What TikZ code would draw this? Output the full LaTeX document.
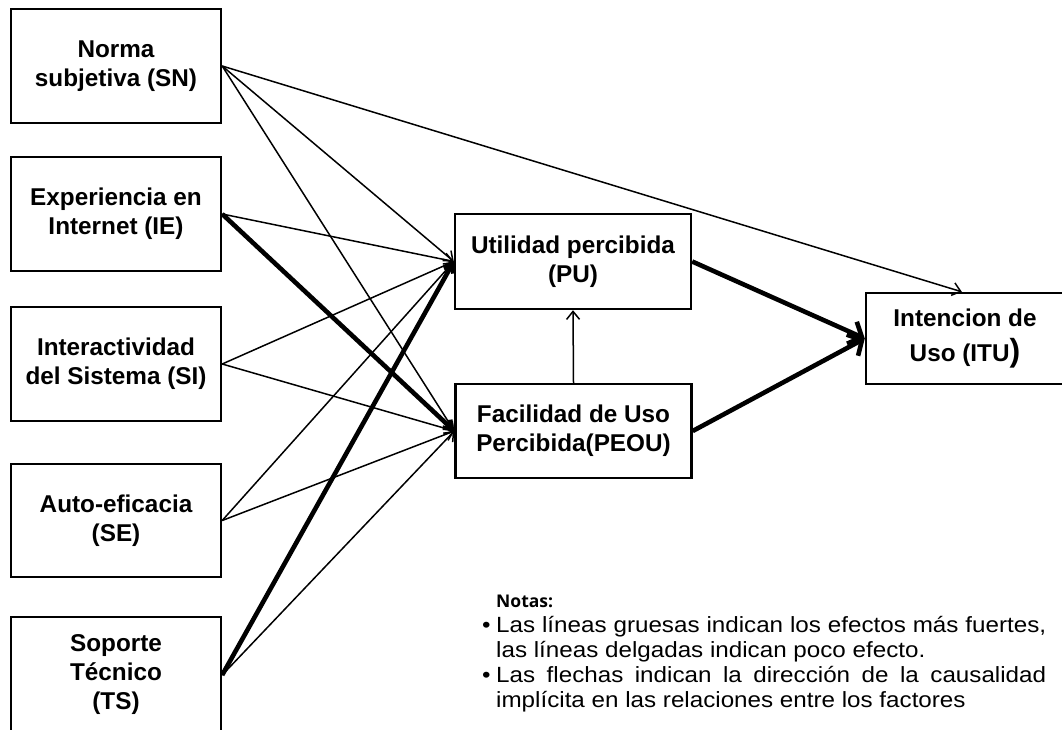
\documentclass[tikz,border=0pt]{standalone}
\usepackage{fontspec}
\setmainfont{Liberation Sans}
\newfontfamily\notasfont{Open Sans}
\newfontfamily\notefont{Liberation Sans}[FakeStretch=1.1]
\usetikzlibrary{arrows.meta}

\tikzset{
  factor/.style={draw, line width=2.4pt, fill=white, align=center, inner sep=0pt,
    font=\bfseries\fontsize{24.3}{29}\selectfont},
  leftbox/.style={factor, minimum width=210pt, minimum height=114pt},
  midbox/.style={factor, minimum width=236pt, minimum height=94pt},
  weak/.style={line width=1.5pt, -{Straight Barb[length=8pt,width=13pt]}},
  strong/.style={line width=4.6pt, -{Straight Barb[length=7pt,width=11pt]}},
  strongout/.style={line width=4.6pt, -{Straight Barb[length=11pt,width=24pt]}},
  notetext/.style={inner sep=0pt, anchor=base west, font=\notefont\fontsize{22}{25}\selectfont},
}

\begin{document}
\begin{tikzpicture}[x=1pt, y=-1pt]
  \clip (0,0) rectangle (1062,729);
  \fill[white] (0,0) rectangle (1062,729);

  % antecedent factors
  \node[leftbox] (sn) at (116,66)    {Norma\\subjetiva (SN)};
  \node[leftbox] (ie) at (116,214)   {Experiencia en\\Internet (IE)};
  \node[leftbox] (si) at (116,364)   {Interactividad\\del Sistema (SI)};
  \node[leftbox, minimum height=113pt] (se) at (116,520.5) {Auto-eficacia\\(SE)};
  \node[leftbox, minimum height=116pt] (ts) at (116,675)   {Soporte\\Técnico\\(TS)};

  % mediating perceptions
  \node[midbox, minimum height=95pt] (pu) at (573,261.5) {Utilidad percibida\\(PU)};
  \node[midbox] (peou) at (573.5,431) {Facilidad de Uso\\Percibida(PEOU)};

  % outcome
  \node[factor, minimum width=198pt, minimum height=91pt] (itu) at (965,338.5)
    {Intencion de\\[6pt]Uso (ITU{\fontsize{32}{32}\selectfont)}};

  % weak effects
  \draw[weak] (sn.east) -- ([xshift=97pt]itu.north west);
  \draw[weak] (sn.east) -- (pu.west);
  \draw[weak] (sn.east) -- (peou.west);
  \draw[weak] (ie.east) -- (pu.west);
  \draw[weak] (si.east) -- (pu.west);
  \draw[weak] (si.east) -- (peou.west);
  \draw[weak] (se.east) -- (pu.west);
  \draw[weak] (se.east) -- (peou.west);
  \draw[weak] (ts.east) -- (peou.west);
  \draw[weak] (peou.north) -- (pu.south);

  % strong effects
  \draw[strong] (ie.east) -- (peou.west);
  \draw[strong] (ts.east) -- (pu.west);
  \draw[strongout] (pu.east) -- (itu.west);
  \draw[strongout] (peou.east) -- (itu.west);

  % notes
  \node[inner sep=0pt, anchor=base west, font=\notasfont\bfseries\fontsize{17.5}{20}\selectfont]
    (notas) at (496,607) {Notas:};
  \node[notetext] (b1) at (482,632) {•};
  \node[notetext] (l1) at (496,632)
    {\makebox[550pt][s]{Las líneas gruesas indican los efectos más fuertes,}};
  \node[notetext] (l2) at (496,657) {las líneas delgadas indican poco efecto.};
  \node[notetext] (b2) at (482,682) {•};
  \node[notetext] (l3) at (496,682)
    {\makebox[550pt][s]{Las flechas indican la dirección de la causalidad}};
  \node[notetext] (l4) at (496,707) {implícita en las relaciones entre los factores};
\end{tikzpicture}
\end{document}
